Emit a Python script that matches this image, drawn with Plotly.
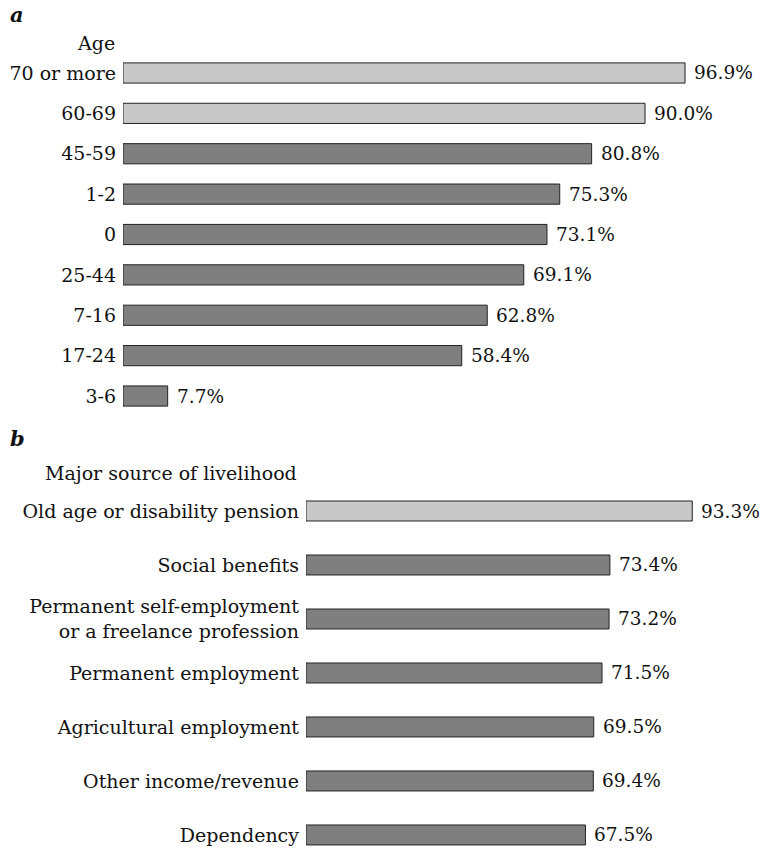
import plotly.graph_objects as go

W, H = 761, 849

age_labels = ["70 or more", "60-69", "45-59", "1-2", "0", "25-44", "7-16", "17-24", "3-6"]
age_values = [96.9, 90.0, 80.8, 75.3, 73.1, 69.1, 62.8, 58.4, 7.7]
age_highlight = [True, True, False, False, False, False, False, False, False]

src_labels = ["Old age or disability pension", "Social benefits",
              "Permanent self-employment<br>or a freelance profession",
              "Permanent employment", "Agricultural employment",
              "Other income/revenue", "Dependency"]
src_values = [93.3, 73.4, 73.2, 71.5, 69.5, 69.4, 67.5]
src_highlight = [True, False, False, False, False, False, False]

LIGHT = "#c8c8c8"
DARK = "#7f7f7f"
FONT = "DejaVu Serif"
FS = 19
FSP = 18.5

def px_x(p):
    return p / W

def px_y(p):
    return 1 - p / H

fig = go.Figure()

fig.add_trace(go.Bar(
    x=age_values, y=age_labels, orientation="h",
    marker=dict(color=[LIGHT if h else DARK for h in age_highlight],
                line=dict(color="#222", width=1)),
    width=0.5, xaxis="x", yaxis="y", showlegend=False, hoverinfo="skip"))

fig.add_trace(go.Bar(
    x=src_values, y=src_labels, orientation="h",
    marker=dict(color=[LIGHT if h else DARK for h in src_highlight],
                line=dict(color="#222", width=1)),
    width=0.37, xaxis="x2", yaxis="y2", showlegend=False, hoverinfo="skip"))

ann = []
for i, v in enumerate(age_values):
    ann.append(dict(x=v, y=i, xref="x", yref="y", text=f"{v:.1f}%", showarrow=False,
                    xanchor="left", xshift=7, font=dict(family=FONT, size=FSP, color="#111")))
for i, v in enumerate(src_values):
    ann.append(dict(x=v, y=i, xref="x2", yref="y2", text=f"{v:.1f}%", showarrow=False,
                    xanchor="left", xshift=7, font=dict(family=FONT, size=FSP, color="#111")))

ann += [
    dict(x=px_x(8), y=px_y(14), xref="paper", yref="paper", text="<b><i>a</i></b>",
         showarrow=False, xanchor="left", yanchor="middle", font=dict(family=FONT, size=21, color="#111")),
    dict(x=px_x(8), y=px_y(438), xref="paper", yref="paper", text="<b><i>b</i></b>",
         showarrow=False, xanchor="left", yanchor="middle", font=dict(family=FONT, size=21, color="#111")),
    dict(x=px_x(117), y=px_y(43), xref="paper", yref="paper", text="Age",
         showarrow=False, xanchor="right", yanchor="middle", font=dict(family=FONT, size=FS, color="#111")),
    dict(x=px_x(299), y=px_y(473), xref="paper", yref="paper", text="Major source of livelihood",
         showarrow=False, xanchor="right", yanchor="middle", font=dict(family=FONT, size=FS, color="#111")),
]

axis_common = dict(showgrid=False, zeroline=False, showline=False, showticklabels=False, ticks="")
ycommon = dict(showgrid=False, zeroline=False, showline=False, ticks="", type="category",
               tickfont=dict(family=FONT, size=FS, color="#111"), ticklabelstandoff=6)

fig.update_layout(
    width=W, height=H, margin=dict(l=0, r=0, t=0, b=0),
    paper_bgcolor="white", plot_bgcolor="white",
    xaxis=dict(domain=[px_x(123), px_x(123 + 580)], range=[0, 100], anchor="y", **axis_common),
    yaxis=dict(domain=[px_y(416.2), px_y(52.8)], range=[8.5, -0.5], anchor="x",
               categoryarray=age_labels, categoryorder="array", **ycommon),
    xaxis2=dict(domain=[px_x(306), px_x(306 + 414)], range=[0, 100], anchor="y2", **axis_common),
    yaxis2=dict(domain=[0, px_y(484)], range=[6.26, -0.5], anchor="x2",
                categoryarray=src_labels, categoryorder="array", **ycommon),
    annotations=ann,
)

fig.write_html("out.html")
